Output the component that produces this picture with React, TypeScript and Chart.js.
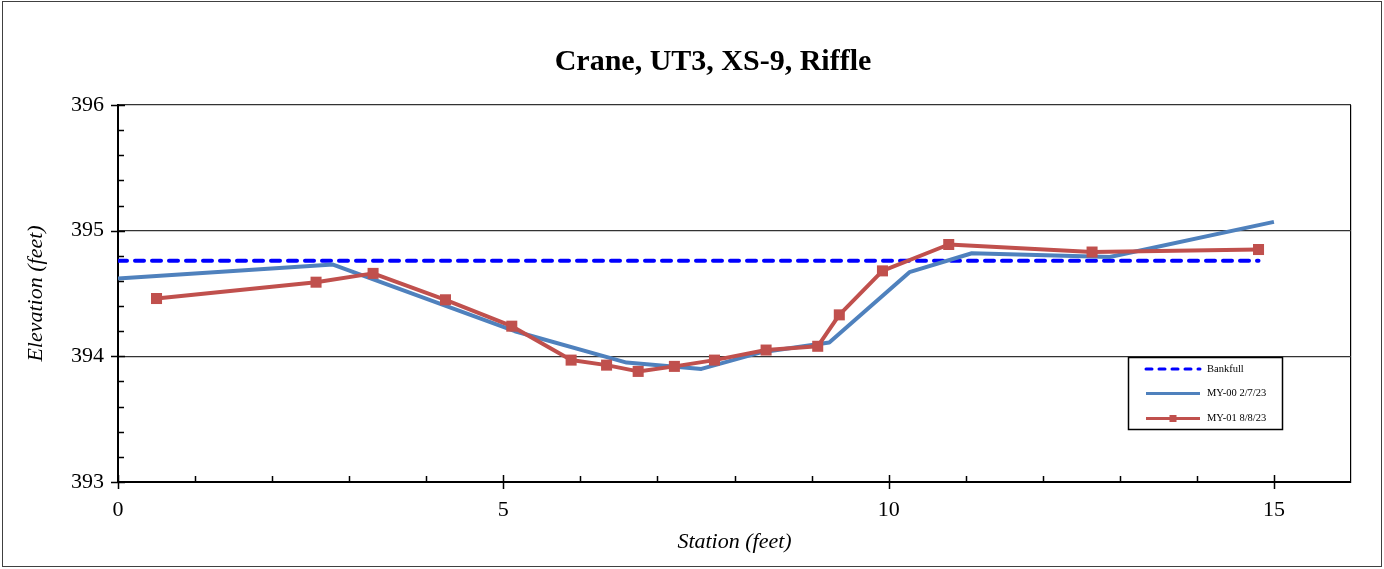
import React, { useEffect, useRef } from 'react';
import { Chart, registerables } from 'chart.js';

Chart.register(...registerables);

const FONT = '"Liberation Serif", "Times New Roman", serif';

const chartTitle = 'Crane, UT3, XS-9, Riffle';
const xAxisTitle = 'Station (feet)';
const yAxisTitle = 'Elevation (feet)';

const seriesLabels = ['Bankfull', 'MY-00 2/7/23', 'MY-01 8/8/23'];

const bankfullStation = [0, 14.8];
const bankfullElev = [394.76, 394.76];

const my00Station = [0, 2.79, 5.15, 6.6, 7.57, 8.33, 9.23, 10.27, 11.08, 12.87, 15.0];
const my00Elev = [394.62, 394.73, 394.2, 393.95, 393.9, 394.03, 394.11, 394.67, 394.82, 394.79, 395.07];

const my01Station = [0.5, 2.57, 3.31, 4.25, 5.11, 5.88, 6.34, 6.75, 7.22, 7.74, 8.41, 9.08, 9.36, 9.92, 10.78, 12.64, 14.8];
const my01Elev = [394.46, 394.59, 394.66, 394.45, 394.24, 393.97, 393.93, 393.88, 393.92, 393.97, 394.05, 394.08, 394.33, 394.68, 394.89, 394.83, 394.85];

const xMajorTicks = [0, 5, 10, 15];
const yMajorTicks = [393, 394, 395, 396];

const toPoints = (xs: number[], ys: number[]) => xs.map((x, i) => ({ x, y: ys[i] }));
const isMajorX = (v: number) => xMajorTicks.some((t) => Math.abs(t - v) < 1e-6);
const isMajorY = (v: number) => yMajorTicks.some((t) => Math.abs(t - v) < 1e-6);

const backgroundPlugin = {
  id: 'bgBorder',
  beforeDraw(chart: any) {
    const { ctx, width, height } = chart;
    ctx.save();
    ctx.fillStyle = '#ffffff';
    ctx.fillRect(0, 0, width, height);
    ctx.strokeStyle = '#404040';
    ctx.lineWidth = 1;
    ctx.strokeRect(2.5, 1.5, width - 5, height - 4);
    ctx.restore();
  },
};

const titlePlugin = {
  id: 'centeredTitle',
  afterDraw(chart: any) {
    const { ctx } = chart;
    ctx.save();
    ctx.fillStyle = '#000';
    ctx.font = `bold 30px ${FONT}`;
    ctx.textAlign = 'center';
    ctx.textBaseline = 'middle';
    ctx.fillText(chartTitle, 713, 62);
    ctx.restore();
  },
};

const ticksPlugin = {
  id: 'customTicks',
  afterDraw(chart: any) {
    const { ctx, chartArea, scales } = chart;
    const x = scales.x;
    const y = scales.y;
    ctx.save();
    ctx.strokeStyle = '#000';
    ctx.lineWidth = 1.5;
    ctx.beginPath();
    x.ticks.forEach((t: any) => {
      if (t.value >= 16) return;
      const px = Math.round(x.getPixelForValue(t.value)) + 0.5;
      if (isMajorX(t.value)) {
        ctx.moveTo(px, chartArea.bottom - 7);
        ctx.lineTo(px, chartArea.bottom + 7);
      } else {
        ctx.moveTo(px, chartArea.bottom - 6);
        ctx.lineTo(px, chartArea.bottom);
      }
    });
    y.ticks.forEach((t: any) => {
      const py = Math.round(y.getPixelForValue(t.value)) + 0.5;
      if (isMajorY(t.value)) {
        ctx.moveTo(chartArea.left - 7, py);
        ctx.lineTo(chartArea.left + 7, py);
      } else {
        ctx.moveTo(chartArea.left, py);
        ctx.lineTo(chartArea.left + 6, py);
      }
    });
    ctx.stroke();
    ctx.restore();
  },
};

const legendPlugin = {
  id: 'boxLegend',
  afterDraw(chart: any) {
    const { ctx } = chart;
    const bx = 1128.5;
    const by = 357.5;
    const bw = 154;
    const bh = 72;
    const rows = [369, 393.5, 418.5];
    ctx.save();
    ctx.fillStyle = '#fff';
    ctx.fillRect(bx, by, bw, bh);
    ctx.strokeStyle = '#000';
    ctx.lineWidth = 1.5;
    ctx.setLineDash([]);
    ctx.strokeRect(bx, by, bw, bh);
    chart.data.datasets.forEach((ds: any, i: number) => {
      const yy = rows[i];
      ctx.beginPath();
      ctx.strokeStyle = ds.borderColor;
      ctx.lineWidth = 3;
      ctx.lineCap = ds.borderCapStyle || 'butt';
      ctx.setLineDash(ds.borderDash ? [6, 7] : []);
      ctx.moveTo(1146, yy);
      ctx.lineTo(1200, yy);
      ctx.stroke();
      ctx.setLineDash([]);
      if (ds.pointRadius > 0) {
        ctx.fillStyle = ds.pointBackgroundColor;
        ctx.fillRect(1173 - 3.5, yy - 3.5, 7, 7);
      }
      ctx.fillStyle = '#000';
      ctx.font = `10.5px ${FONT}`;
      ctx.textBaseline = 'middle';
      ctx.textAlign = 'left';
      ctx.fillText(ds.label, 1207, yy);
    });
    ctx.restore();
  },
};

export default function App() {
  const canvasRef = useRef<HTMLCanvasElement | null>(null);

  useEffect(() => {
    document.body.style.margin = '0';
    const canvas = canvasRef.current;
    if (!canvas) return;
    const chart = new Chart(canvas, {
      type: 'scatter',
      data: {
        datasets: [
          {
            label: seriesLabels[0],
            data: toPoints(bankfullStation, bankfullElev),
            showLine: true,
            borderColor: '#0000FF',
            backgroundColor: '#0000FF',
            borderWidth: 4,
            borderDash: [9, 8],
            borderCapStyle: 'round',
            pointRadius: 0,
            order: 3,
          },
          {
            label: seriesLabels[1],
            data: toPoints(my00Station, my00Elev),
            showLine: true,
            borderColor: '#4F81BD',
            backgroundColor: '#4F81BD',
            borderWidth: 4,
            borderJoinStyle: 'round',
            pointRadius: 0,
            order: 2,
          },
          {
            label: seriesLabels[2],
            data: toPoints(my01Station, my01Elev),
            showLine: true,
            borderColor: '#C0504D',
            backgroundColor: '#C0504D',
            borderWidth: 4,
            borderJoinStyle: 'round',
            pointStyle: 'rect',
            pointRadius: 7.8,
            pointBackgroundColor: '#C0504D',
            pointBorderColor: '#C0504D',
            pointBorderWidth: 0,
            order: 1,
          },
        ],
      } as any,
      options: {
        animation: false,
        responsive: false,
        devicePixelRatio: 1,
        layout: { padding: { left: 0, right: 33, top: 105, bottom: 0 } },
        plugins: {
          legend: { display: false },
          tooltip: { enabled: false },
          title: { display: false },
        },
        scales: {
          x: {
            type: 'linear',
            min: 0,
            max: 16,
            afterFit: (s: any) => {
              s.height = 87;
            },
            ticks: {
              stepSize: 1,
              autoSkip: false,
              maxRotation: 0,
              color: '#000',
              padding: 15,
              font: { family: FONT, size: 22 },
              callback: (v: any) => (isMajorX(Number(v)) ? String(v) : ''),
            },
            grid: {
              drawTicks: false,
              color: (c: any) => (c.tick && c.tick.value >= 16 ? '#000' : 'rgba(0,0,0,0)'),
              lineWidth: 1.2,
            },
            border: { display: true, color: '#000', width: 2 },
            title: {
              display: true,
              text: xAxisTitle,
              color: '#000',
              font: { family: FONT, size: 22, style: 'italic', lineHeight: 1.2 },
              padding: { top: 0, bottom: 14 },
            },
          },
          y: {
            type: 'linear',
            min: 393,
            max: 396,
            afterFit: (s: any) => {
              s.width = 118;
            },
            ticks: {
              stepSize: 0.2,
              autoSkip: false,
              color: '#000',
              padding: 14,
              font: { family: FONT, size: 22 },
              callback: (v: any) => (isMajorY(Number(v)) ? String(Math.round(Number(v))) : ''),
            },
            grid: {
              drawTicks: false,
              color: (c: any) => (c.tick && isMajorY(c.tick.value) ? '#333' : 'rgba(0,0,0,0)'),
              lineWidth: 1.2,
            },
            border: { display: true, color: '#000', width: 2 },
            title: {
              display: true,
              text: yAxisTitle,
              color: '#000',
              font: { family: FONT, size: 22, style: 'italic', lineHeight: 1.2 },
              padding: { top: 23, bottom: 0 },
            },
          },
        },
      } as any,
      plugins: [backgroundPlugin, titlePlugin, ticksPlugin, legendPlugin],
    });
    return () => {
      chart.destroy();
    };
  }, []);

  return (
    <div style={{ width: 1384, height: 569 }}>
      <canvas ref={canvasRef} width={1384} height={569} style={{ display: 'block' }} />
    </div>
  );
}
